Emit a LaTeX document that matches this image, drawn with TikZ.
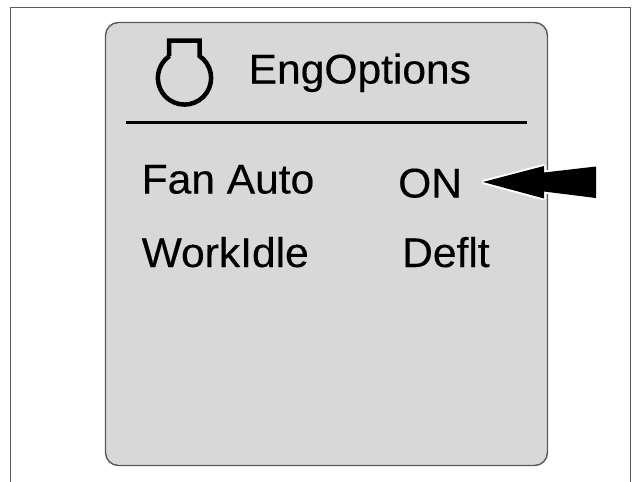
\documentclass[tikz,border=0pt]{standalone}
\usepackage{fontspec}
\setmainfont{Liberation Sans}
\newfontfamily\lblfont[FakeBold=0.3,FakeStretch=1.025]{Liberation Sans}
\definecolor{panelgray}{RGB}{216,216,216}
\definecolor{edgegray}{RGB}{90,90,90}
\tikzset{
  lbl/.style={inner sep=0pt,anchor=base west,font=\lblfont\fontsize{41.5}{42}\selectfont,text=black},
  edge/.style={draw=edgegray,line width=1.4pt},
  bold/.style={draw=black,line width=4.5pt,line join=miter}
}
\begin{document}
\begin{tikzpicture}[x=1pt,y=-1pt]
\useasboundingbox (0,0) rectangle (635,482);
\fill[white] (0,0) rectangle (635,482);
\draw[edge] (10.5,482) -- (10.5,7.5) -- (630.5,7.5) -- (630.5,482);
\draw[edge,fill=panelgray,rounded corners=13pt] (105.5,22.5) rectangle (547.5,465.5);
% engine icon
\draw[bold] (169,56) -- (169,40.5) -- (199.5,40.5) -- (199.5,56)
  arc[start angle=-55.7,end angle=235.7,radius=26.6];
\draw[draw=black,line width=3pt] (126,122.5) -- (527,122.5);
\node[lbl] (title) at (248.5,83.5) {EngOptions};
\node[lbl] (fan) at (141.5,193.5) {Fan Auto};
\node[lbl] (on) at (398,197.5) {ON};
\node[lbl] (work) at (141.5,267) {WorkIdle};
\node[lbl] (deflt) at (402,267) {Deflt};
% arrow
\path[fill=black,draw=white,line width=4pt,line join=bevel] (483,182) -- (544,166) -- (544,172.5) -- (596,166.5) -- (596,198) -- (544,191.5) -- (544,198.5) -- cycle;
\fill[black] (483,182) -- (544,166) -- (544,172.5) -- (596,166.5) -- (596,198) -- (544,191.5) -- (544,198.5) -- cycle;
\end{tikzpicture}
\end{document}
